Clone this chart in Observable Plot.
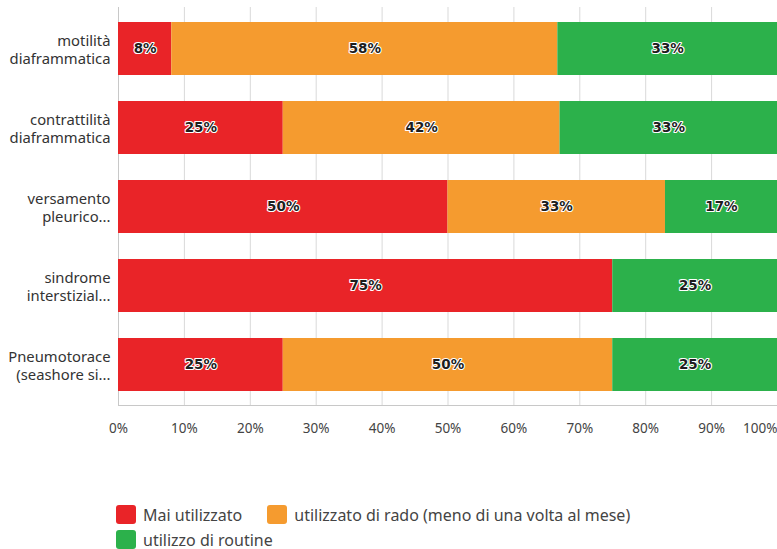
<!DOCTYPE html>
<html>
<head>
<meta charset="utf-8">
<script src="https://cdn.jsdelivr.net/npm/d3@7"></script>
<script src="https://cdn.jsdelivr.net/npm/@observablehq/plot@0.6"></script>
<style>
  html, body { margin: 0; padding: 0; background: #fff; }
  body { width: 777px; height: 549px; overflow: hidden; font-family: "Noto Sans", Lato, sans-serif; }
  #legend { margin-left: 116px; width: 560px; display: flex; flex-wrap: wrap; column-gap: 25px; row-gap: 6px; font-size: 16px; color: #444; margin-top: 50px; }
  .item { display: flex; align-items: center; gap: 7px; height: 19px; }
  .sw { width: 20px; height: 19px; border-radius: 3px; display: inline-block; }
</style>
</head>
<body>
<div id="chart"></div>
<div id="legend"></div>
<script>
const categories = [
  "motilità\ndiaframmatica",
  "contrattilità\ndiaframmatica",
  "versamento\npleurico...",
  "sindrome\ninterstizial...",
  "Pneumotorace\n(seashore si..."
];
const seriesNames = [
  "Mai utilizzato",
  "utilizzato di rado (meno di una volta al mese)",
  "utilizzo di routine"
];
const maiUtilizzato = [8, 25, 50, 75, 25];
const utilizzatoDiRado = [58, 42, 33, 0, 50];
const utilizzoDiRoutine = [33, 33, 17, 25, 25];
const colors = ["#e92428", "#f59b2f", "#2cb14b"];
const xTicks = [0, 0.1, 0.2, 0.3, 0.4, 0.5, 0.6, 0.7, 0.8, 0.9];

const seriesValues = [maiUtilizzato, utilizzatoDiRado, utilizzoDiRoutine];
const rows = [];
seriesNames.forEach((s, si) => {
  categories.forEach((c, ci) => {
    rows.push({category: c, series: s, value: seriesValues[si][ci]});
  });
});

const stackOpts = {x: "value", y: "category", z: "series", offset: "normalize", order: seriesNames};

const chart = Plot.plot({
  width: 777,
  height: 455,
  marginLeft: 118,
  marginRight: 0,
  marginTop: 7,
  marginBottom: 50,
  style: {fontFamily: "'Noto Sans', Lato, sans-serif", color: "#333", background: "#fff"},
  x: {domain: [0, 1], label: null},
  y: {domain: categories, padding: 0.33, paddingOuter: 0.165, label: null},
  color: {domain: seriesNames, range: colors},
  marks: [
    Plot.gridX(xTicks.concat([1]), {stroke: "#d9d9d9", strokeOpacity: 1}),
    Plot.ruleX([0], {stroke: "#c8c8c8"}),
    Plot.frame({anchor: "bottom", stroke: "#c8c8c8"}),
    Plot.barX(rows, Plot.stackX({...stackOpts, fill: "series"})),
    Plot.text(rows, Plot.stackX({
      ...stackOpts,
      filter: d => d.value > 0,
      text: d => d.value + "%",
      fill: "#1e1e1e",
      stroke: "white",
      strokeWidth: 2.2,
      fontWeight: "bold",
      fontSize: 13.5,
      fontFamily: "'DejaVu Sans', sans-serif"
    })),
    Plot.axisY({tickSize: 0, tickPadding: 8, fontSize: 14.8, lineHeight: 1.22, fill: "#333"}),
    Plot.axisX(xTicks, {tickSize: 0, tickPadding: 18, fontSize: 13.5, fill: "#444", tickFormat: d => Math.round(d * 100) + "%"}),
    Plot.axisX([1], {tickSize: 0, tickPadding: 18, fontSize: 13.5, fill: "#444", textAnchor: "end", tickFormat: d => Math.round(d * 100) + "%"})
  ]
});
document.getElementById("chart").appendChild(chart);

const legend = document.getElementById("legend");
seriesNames.forEach((s, i) => {
  const item = document.createElement("div");
  item.className = "item";
  const sw = document.createElement("span");
  sw.className = "sw";
  sw.style.background = colors[i];
  const t = document.createElement("span");
  t.textContent = s;
  item.appendChild(sw);
  item.appendChild(t);
  legend.appendChild(item);
});
</script>
</body>
</html>
